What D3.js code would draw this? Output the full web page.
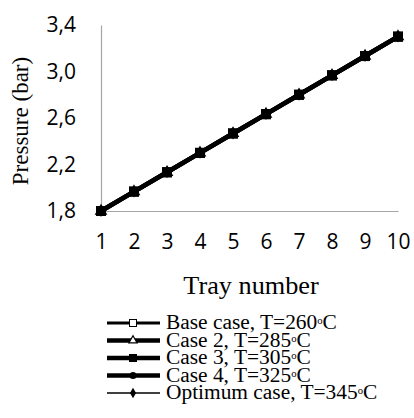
<!DOCTYPE html>
<html>
<head>
<meta charset="utf-8">
<script src="https://cdn.jsdelivr.net/npm/d3@7"></script>
<style>
  body { margin: 0; background: #fff; }
  svg { display: block; }
</style>
</head>
<body>
<svg width="414" height="418"></svg>
<script>
const trays = [1, 2, 3, 4, 5, 6, 7, 8, 9, 10];
const yTicks = [1.8, 2.2, 2.6, 3.0, 3.4];

// every case sits on the same line
const baseCase = [1.8, 1.967, 2.133, 2.3, 2.467, 2.633, 2.8, 2.967, 3.133, 3.3];
const case2 = [1.8, 1.967, 2.133, 2.3, 2.467, 2.633, 2.8, 2.967, 3.133, 3.3];
const case3 = [1.8, 1.967, 2.133, 2.3, 2.467, 2.633, 2.8, 2.967, 3.133, 3.3];
const case4 = [1.8, 1.967, 2.133, 2.3, 2.467, 2.633, 2.8, 2.967, 3.133, 3.3];
const optimum = [1.8, 1.967, 2.133, 2.3, 2.467, 2.633, 2.8, 2.967, 3.133, 3.3];

const seriesNames = ["Base case, T=260", "Case 2, T=285", "Case 3, T=305", "Case 4, T=325", "Optimum case, T=345"];

const series = [
  { name: seriesNames[0], values: baseCase, marker: "square-open", width: 3 },
  { name: seriesNames[1], values: case2, marker: "triangle", width: 4.5 },
  { name: seriesNames[4], values: optimum, marker: "diamond", width: 1.5 },
  { name: seriesNames[3], values: case4, marker: "circle", width: 4.5 },
  { name: seriesNames[2], values: case3, marker: "square", width: 4.5 }
];

const svg = d3.select("svg");
const plotLeft = 101, plotRight = 398, plotTop = 25, plotBottom = 211;

const x = d3.scaleLinear().domain([1, 10]).range([plotLeft, plotRight]);
const y = d3.scaleLinear().domain([1.8, 3.4]).range([plotBottom, plotTop]);

// axes
const xAxis = svg.append("g")
  .attr("transform", `translate(0,${plotBottom})`)
  .call(d3.axisBottom(x).tickValues(trays).tickSize(0).tickPadding(23).tickFormat(d3.format("d")));
const yAxis = svg.append("g")
  .attr("transform", `translate(${plotLeft},0)`)
  .call(d3.axisLeft(y).tickValues(yTicks).tickSize(0).tickPadding(25)
    .tickFormat(d => d3.format(".1f")(d).replace(".", ",")));

[xAxis, yAxis].forEach(a => {
  a.select(".domain").attr("stroke", "#a6a6a6").attr("stroke-width", 1.2);
  a.selectAll("text")
    .attr("font-family", "'Open Sans', sans-serif")
    .attr("font-size", 21)
    .attr("fill", "#000");
});

svg.append("text")
  .attr("transform", "translate(251,294) scale(1.05,1)")
  .attr("text-anchor", "middle")
  .attr("font-family", "'Liberation Serif', 'Times New Roman', serif")
  .attr("font-size", 25)
  .text("Tray number");

svg.append("text")
  .attr("transform", "translate(28,121) rotate(-90)")
  .attr("text-anchor", "middle")
  .attr("font-family", "'Liberation Serif', 'Times New Roman', serif")
  .attr("font-size", 23)
  .text("Pressure (bar)");

function drawMarker(g, type, cx, cy, s) {
  if (type === "square" || type === "square-open") {
    g.append("rect")
      .attr("x", cx - s / 2).attr("y", cy - s / 2)
      .attr("width", s).attr("height", s)
      .attr("fill", type === "square" ? "#000" : "#fff")
      .attr("stroke", "#000").attr("stroke-width", 1);
  } else if (type === "triangle") {
    g.append("path")
      .attr("d", d3.symbol(d3.symbolTriangle, s * s * 0.6)())
      .attr("transform", `translate(${cx},${cy})`)
      .attr("fill", "#fff").attr("stroke", "#000").attr("stroke-width", 1.2);
  } else if (type === "circle") {
    g.append("circle").attr("cx", cx).attr("cy", cy).attr("r", s / 2).attr("fill", "#000");
  } else if (type === "diamond") {
    g.append("path")
      .attr("d", d3.symbol(d3.symbolDiamond, s * s * 0.5)())
      .attr("transform", `translate(${cx},${cy})`)
      .attr("fill", "#000");
  }
}

const line = d3.line().x((d, i) => x(trays[i])).y(d => y(d));

series.forEach(s => {
  const g = svg.append("g");
  g.append("path")
    .attr("d", line(s.values))
    .attr("fill", "none")
    .attr("stroke", "#000")
    .attr("stroke-width", s.width);
  s.values.forEach((v, i) => drawMarker(g, s.marker, x(trays[i]), y(v), 9));
});

// legend
const legendOrder = [series[0], series[1], series[4], series[3], series[2]];
const legend = svg.append("g");
legendOrder.forEach((s, i) => {
  const ly = 323 + i * 17.5;
  legend.append("line")
    .attr("x1", 107).attr("x2", 160).attr("y1", ly).attr("y2", ly)
    .attr("stroke", "#000").attr("stroke-width", s.width);
  drawMarker(legend, s.marker, 133, ly, s.marker === "diamond" ? 8 : 7);
  const t = legend.append("text")
    .attr("transform", `translate(166,${ly + 6}) scale(1.07,1)`)
    .attr("font-family", "'Liberation Serif', 'Times New Roman', serif")
    .attr("font-size", 20);
  t.append("tspan").text(s.name);
  t.append("tspan").attr("font-size", 10).attr("dy", -5).text("o");
  t.append("tspan").attr("dy", 5).text("C");
});
</script>
</body>
</html>
